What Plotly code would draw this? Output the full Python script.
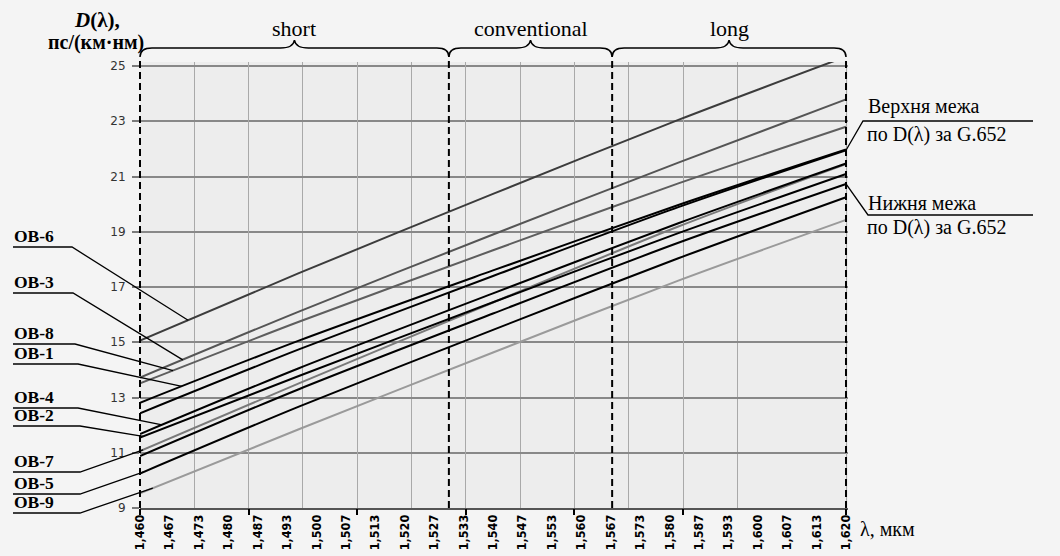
import numpy as np
import plotly.graph_objects as go

# ---------------- data ----------------
wavelength = [1.460, 1.496, 1.540, 1.582, 1.620]
OB6 = [15.06, 17.50, 20.37, 23.05, 25.34]
OB3 = [13.72, 16.11, 18.90, 21.50, 23.79]
OB8 = [13.51, 15.74, 18.33, 20.75, 22.80]
OB1 = [12.81, 15.06, 17.60, 19.97, 21.98]
upper_limit = [12.43, 14.74, 17.40, 19.89, 21.95]
OB4 = [11.68, 14.06, 16.77, 19.31, 21.47]
OB2 = [11.55, 13.78, 16.45, 18.95, 21.09]
OB7 = [11.06, 13.51, 16.44, 19.19, 21.45]
lower_limit = [10.88, 13.30, 16.04, 18.60, 20.73]
OB5 = [10.25, 12.67, 15.45, 18.04, 20.25]
OB9 = [9.53, 11.85, 14.63, 17.23, 19.43]

tick_labels = ['1,460', '1,467', '1,473', '1,480', '1,487', '1,493', '1,500', '1,507',
               '1,513', '1,520', '1,527', '1,533', '1,540', '1,547', '1,553', '1,560',
               '1,567', '1,573', '1,580', '1,587', '1,593', '1,600', '1,607', '1,613', '1,620']
y_ticks = [9, 11, 13, 15, 17, 19, 21, 23, 25]
band_edges = [1.460, 1.530, 1.567, 1.620]
band_names = ['short', 'conventional', 'long']

series = [
    ('OB-6', OB6, '#3c3c3c'),
    ('OB-3', OB3, '#555555'),
    ('OB-8', OB8, '#5e5e5e'),
    ('OB-7', OB7, '#7a7a7a'),
    ('OB-9', OB9, '#9a9a9a'),
    ('Верхня межа', upper_limit, '#000000'),
    ('OB-1', OB1, '#000000'),
    ('OB-4', OB4, '#000000'),
    ('OB-2', OB2, '#000000'),
    ('Нижня межа', lower_limit, '#000000'),
    ('OB-5', OB5, '#000000'),
]
series_by_name = {n: v for n, v, c in series}

# ---------------- geometry helpers ----------------
W, H = 1060, 556
L, R, T, B = 140, 212, 62, 48
PW, PH = W - L - R, H - T - B
X0, X1 = 1.460, 1.62045
Y0, Y1 = 9.0, 25.145


def xp(lam):
    return (lam - X0) / (X1 - X0)


def yp(d):
    return (d - Y0) / (Y1 - Y0)


def px2x(px):
    return (px - L) / PW


def px2y(py):
    return (H - B - py) / PH


def lam2px(lam):
    return L + xp(lam) * PW


serif = 'Liberation Serif, Times New Roman, serif'

fig = go.Figure()

for name, vals, color in series:
    fig.add_trace(go.Scatter(x=wavelength, y=vals, mode='lines', name=name,
                             line=dict(color=color, width=2, shape='spline', smoothing=0.8),
                             showlegend=False, hoverinfo='skip'))

# invisible trace to activate secondary x axis (grid lines)
fig.add_trace(go.Scatter(x=[X0], y=[Y0], xaxis='x2', mode='markers',
                         marker=dict(opacity=0), showlegend=False, hoverinfo='skip'))

grid_step = (band_edges[-1] - band_edges[0]) / 13
major_grid = [band_edges[0] + k * grid_step for k in range(0, 11, 2)] + [band_edges[-1]]
minor_grid = [band_edges[0] + k * grid_step for k in range(1, 12, 2)]

shapes = []
annotations = []

# dashed band boundaries
for e in band_edges:
    shapes.append(dict(type='line', xref='paper', yref='paper', x0=xp(e), x1=xp(e),
                       y0=0, y1=px2y(57), line=dict(color='black', width=2, dash='7px,4px')))

# braces + band names
for i, nm in enumerate(band_names):
    xa, xb = lam2px(band_edges[i]), lam2px(band_edges[i + 1])
    xm = (xa + xb) / 2
    pts = [('M', xa, 57), ('Q', xa, 48), ('', xa + 12, 48), ('L', xm - 14, 48),
           ('Q', xm - 1, 48), ('', xm, 40), ('Q', xm + 1, 48), ('', xm + 14, 48),
           ('L', xb - 12, 48), ('Q', xb, 48), ('', xb, 57)]
    path = ' '.join(f'{c} {px2x(a):.5f},{px2y(b):.5f}'.strip() for c, a, b in pts)
    shapes.append(dict(type='path', xref='paper', yref='paper', path=path,
                       line=dict(color='black', width=1.5)))
    annotations.append(dict(text=nm, xref='paper', yref='paper', x=px2x(xm), y=px2y(28),
                            xanchor='center', yanchor='middle', showarrow=False,
                            font=dict(family=serif, size=22, color='black')))

# left labels with leader lines
left_labels = [
    ('OB-6', 247, 72, 1.4709),
    ('OB-3', 293, 73, 1.4697),
    ('OB-8', 344, 75, 1.4675),
    ('OB-1', 364, 78, 1.4695),
    ('OB-4', 408, 78, 1.4650),
    ('OB-2', 426, 80, 1.4607),
    ('OB-7', 472, 80, 1.4607),
    ('OB-5', 494, 80, 1.4607),
    ('OB-9', 513, 80, 1.4629),
]
for nm, uy, ux, lam_t in left_labels:
    d_t = float(np.interp(lam_t, wavelength, series_by_name[nm]))
    path = (f'M {px2x(13):.5f},{px2y(uy):.5f} L {px2x(ux):.5f},{px2y(uy):.5f} '
            f'L {xp(lam_t):.5f},{yp(d_t):.5f}')
    shapes.append(dict(type='path', xref='paper', yref='paper', path=path,
                       line=dict(color='black', width=1.3)))
    annotations.append(dict(text=nm, xref='paper', yref='paper', x=px2x(13), y=px2y(uy),
                            xanchor='left', yanchor='bottom', showarrow=False, borderpad=0,
                            font=dict(family=serif, size=17.5, color='black', weight='bold')))

# right labels (limits)
right_labels = [
    ('Верхня межа', upper_limit, 863, 121, 107, 134),
    ('Нижня межа', lower_limit, 868, 215, 203, 228),
]
for nm, vals, kx, ky, ty1, ty2 in right_labels:
    path = (f'M {xp(band_edges[-1]):.5f},{yp(vals[-1]):.5f} L {px2x(kx):.5f},{px2y(ky):.5f} '
            f'L {px2x(1033):.5f},{px2y(ky):.5f}')
    shapes.append(dict(type='path', xref='paper', yref='paper', path=path,
                       line=dict(color='black', width=1.3)))
    annotations.append(dict(text=nm, xref='paper', yref='paper', x=px2x(866), y=px2y(ty1),
                            xanchor='left', yanchor='middle', showarrow=False,
                            font=dict(family=serif, size=20, color='black')))
    annotations.append(dict(text='по D(λ) за G.652', xref='paper', yref='paper', x=px2x(865),
                            y=px2y(ty2), xanchor='left', yanchor='middle', showarrow=False,
                            font=dict(family=serif, size=20, color='black')))

# axis titles
annotations.append(dict(text='<i>D</i>(λ),', xref='paper', yref='paper', x=px2x(97), y=px2y(20),
                        xanchor='center', yanchor='middle', showarrow=False,
                        font=dict(family=serif, size=21, color='black', weight='bold')))
annotations.append(dict(text='пс/(км·нм)', xref='paper', yref='paper', x=px2x(96), y=px2y(43),
                        xanchor='center', yanchor='middle', showarrow=False,
                        font=dict(family=serif, size=20, color='black', weight='bold')))
annotations.append(dict(text='λ, мкм', xref='paper', yref='paper', x=px2x(858), y=px2y(529),
                        xanchor='left', yanchor='middle', showarrow=False,
                        font=dict(family=serif, size=20, color='black')))

tick_pos = list(np.linspace(band_edges[0], band_edges[-1], len(tick_labels)))

fig.update_layout(
    width=W, height=H,
    margin=dict(l=L, r=R, t=T, b=B, autoexpand=False),
    paper_bgcolor='#f4f4f4',
    plot_bgcolor='#ededed',
    shapes=shapes,
    annotations=annotations,
    xaxis=dict(range=[X0, X1], tickvals=tick_pos, ticktext=tick_labels, tickangle=-90,
               tickfont=dict(family='Liberation Sans Narrow, DejaVu Sans Condensed, Liberation Sans',
                             size=12.5, color='black', weight='bold'),
               showgrid=False, zeroline=False, ticks='', showline=True,
               linecolor='#555555', linewidth=1.5, automargin=False, fixedrange=True),
    xaxis2=dict(range=[X0, X1], overlaying='x', anchor='y', side='bottom',
                tickvals=major_grid, showticklabels=False, ticks='outside', ticklen=6,
                tickwidth=2, tickcolor='black', showgrid=True, gridcolor='#a9a9a9', gridwidth=1,
                minor=dict(tickvals=minor_grid, showgrid=True, gridcolor='#a9a9a9', gridwidth=1,
                           ticks=''),
                zeroline=False, showline=False, automargin=False, fixedrange=True),
    yaxis=dict(range=[Y0, Y1], tickvals=y_ticks, ticktext=[str(v) for v in y_ticks],
               showgrid=True, gridcolor='#888888', gridwidth=1.6, zeroline=False,
               ticks='outside', ticklen=7, tickcolor='#7a7a7a', tickwidth=1.5,
               ticklabelstandoff=4,
               tickfont=dict(family='DejaVu Sans', size=12, color='#333333'),
               showline=False, automargin=False, fixedrange=True),
)

fig.write_html('out.html')
